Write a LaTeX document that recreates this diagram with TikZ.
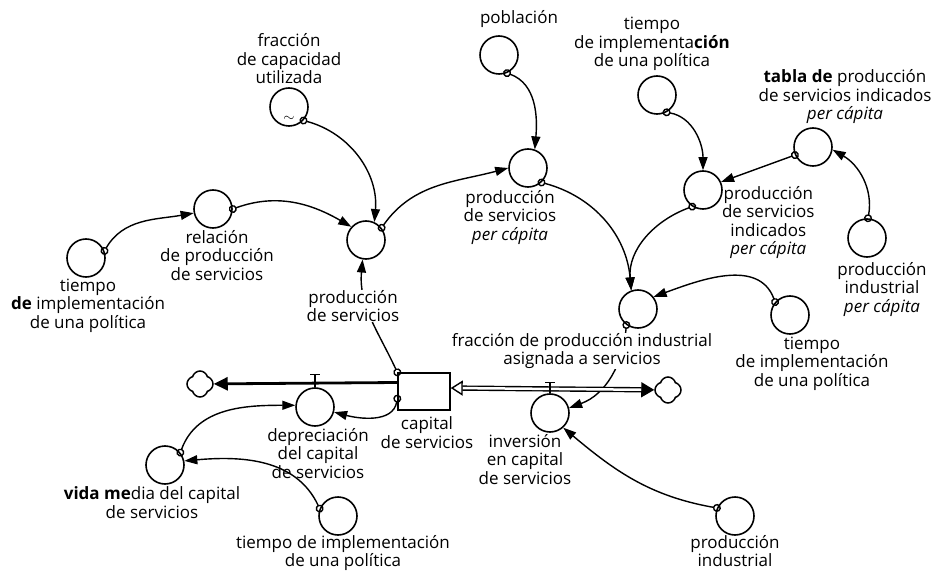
\documentclass[tikz,border=0pt]{standalone}
\usepackage{fontspec}
\setmainfont{Open Sans}
\usetikzlibrary{shapes.symbols, arrows.meta, positioning, backgrounds}

\begin{document}
\begin{tikzpicture}[x=1pt, y=1pt,
    var/.style={circle, draw, line width=1.6pt, minimum size=38pt, inner sep=0pt},
    stockbox/.style={rectangle, draw, line width=1.4pt, minimum width=52pt, minimum height=37pt, inner sep=0pt},
    sink/.style={cloud, draw, cloud puffs=4, aspect=1, line width=1.5pt, minimum width=26pt, minimum height=26pt, inner sep=0pt},
    lbl/.style={align=center, inner sep=0pt, font=\fontsize{17}{18.5}\selectfont},
    link/.style={line width=1.4pt, shorten <=-4pt, {Circle[length=8pt,width=8pt,fill=white,line width=1.4pt]}-{Triangle[length=13pt,width=9pt]}},
    pipeout/.style={line width=2.8pt, -{Triangle[length=14pt,width=13pt]}},
    pipein/.style={double, double distance=2.5pt, line width=1.4pt, {Triangle[open,length=12pt,width=15pt]}-{Triangle[length=13pt,width=15pt]}},
    valve/.style={line width=1.4pt}]
  \useasboundingbox (0,0) rectangle (939,571);

  % variables
  \node[var] (tl) at (86,313) {};
  \node[var] (rel) at (213,362) {};
  \node[var] (fcu) at (289,464) {};
  \node[var] (ps) at (366,331) {};
  \node[var] (pob) at (499,516) {};
  \node[var] (pspc) at (528,403) {};
  \node[var] (tt) at (657,476) {};
  \node[var] (psi) at (703,381) {};
  \node[var] (tab) at (813,424) {};
  \node[var] (pipc) at (867,333) {};
  \node[var] (fpi) at (638,262) {};
  \node[var] (tr) at (790,256) {};
  \node[stockbox] (stock) at (424,179.5) {};
  \node[var] (dep) at (315,164) {};
  \node[var] (inv) at (550,158) {};
  \node[var] (vm) at (165,106) {};
  \node[var] (tb) at (338,55) {};
  \node[var] (pi) at (735,55) {};
  \node[sink] (cloudL) at (200,187) {};
  \node[sink] (cloudR) at (668,181) {};
  \node[font=\Large] (tilde) at ([yshift=8pt]fcu.south) {$\sim$};

  % labels
  \node[lbl, above=3pt of fcu] (fcuL) {fracción\\de capacidad\\utilizada};
  \node[lbl, above=7pt of pob, xshift=20pt] (pobL) {población};
  \node[lbl, above=4pt of tt, xshift=-5pt] (ttL) {tiempo\\de implementa\textbf{ción}\\de una política};
  \node[lbl, above=3pt of tab, xshift=32pt] (tabL) {\textbf{tabla de} producción\\de servicios indicados\\\textit{per cápita}};
  \node[lbl, below=1pt of rel, xshift=4pt] (relL) {relación\\de producción\\de servicios};
  \node[lbl, below=1pt of tl, xshift=2pt] (tlL) {tiempo\\\textbf{de} implementación\\de una política};
  \node[lbl, below=30pt of ps, xshift=-13pt, fill=white] (psL) {producción\\de servicios};
  \node[lbl, below=2pt of pspc, xshift=-18pt] (pspcL) {producción\\de servicios\\\textit{per cápita}};
  \node[lbl, below right=-4pt and -1pt of psi.east] (psiL) {producción\\de servicios\\indicados\\\textit{per cápita}};
  \node[lbl, below=4pt of pipc, xshift=15pt] (pipcL) {producción\\industrial\\\textit{per cápita}};
  \node[lbl, below=4pt of fpi, xshift=-56pt, fill=white] (fpiL) {fracción de producción industrial\\asignada a servicios};
  \node[lbl, below=2pt of tr, xshift=22pt] (trL) {tiempo\\de implementación\\de una política};
  \node[lbl, below=6pt of stock, xshift=3pt] (stockL) {capital\\de servicios};
  \node[lbl, below=1pt of dep, xshift=3pt] (depL) {depreciación\\del capital\\de servicios};
  \node[lbl, below=1pt of inv, xshift=-25pt] (invL) {inversión\\en capital\\de servicios};
  \node[lbl, below=2pt of vm, xshift=-13pt] (vmL) {\textbf{vida me}dia del capital\\de servicios};
  \node[lbl, below=-1pt of tb, xshift=5pt] (tbL) {tiempo de implementación\\de una política};
  \node[lbl, below=-1pt of pi] (piL) {producción\\industrial};

  % flows
  \draw[pipeout] ([yshift=9pt]stock.west) -- (cloudL);
  \draw[pipein] ([yshift=3.5pt]stock.east) -- (cloudR);
  \draw[valve] (dep.north) -- ++(0,13) ++(-5,0) -- ++(10,0);
  \draw[valve] (inv.north) -- ++(0,11) ++(-5,0) -- ++(10,0);

  % links
  \begin{scope}[on background layer]
    \draw[link] (tl.21) to[out=60,in=190] (rel.192);
    \draw[link] (rel.0) to[out=20,in=150] (ps.138);
    \draw[link] (fcu.-43) to[out=-15,in=85] (ps.65);
    \draw[link] (ps.38) to[out=55,in=195] (pspc.180);
    \draw[link] (pob.-66) to[out=-20,in=85] (pspc.70);
    \draw[link] (pspc.-47) to[out=-15,in=95] (fpi.110);
    \draw[link] (tt.-61) to[out=-10,in=90] (psi.90);
    \draw[link] (tab.204) -- (psi.24);
    \draw[link] (pipc.87) to[out=80,in=-30] (tab.-8);
    \draw[link] (psi.237) to[out=200,in=95] (fpi.110);
    \draw[link] (tr.139) to[out=110,in=20] (fpi.38);
    \draw[link] (fpi.234) to[out=-95,in=20] (inv.15);
    \draw[link] (stock.north west) to[out=115,in=-95] (ps.-100);
    \draw[link] (stock.195) to[out=-100,in=-15] (dep.-15);
    \draw[link] (vm.39) to[out=70,in=180] (dep.175);
    \draw[link] (tb.158) to[out=115,in=5] (vm.12);
    \draw[link] (pi.156) to[out=170,in=-40] (inv.-48);
  \end{scope}
\end{tikzpicture}
\end{document}
